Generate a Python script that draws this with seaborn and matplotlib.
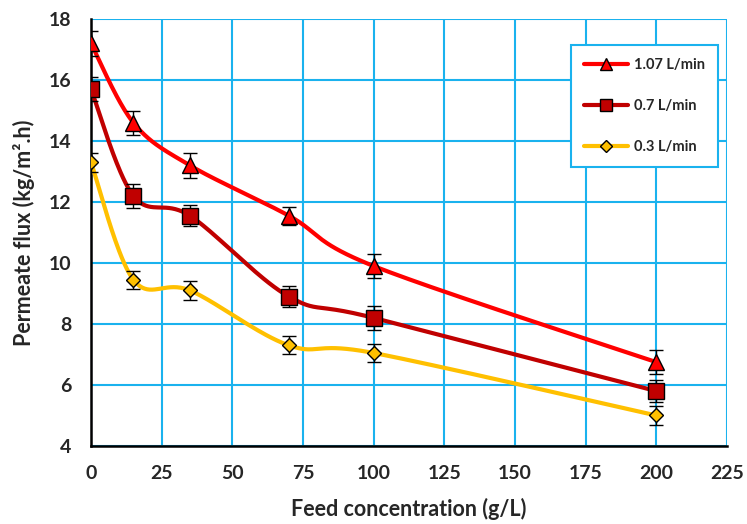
import numpy as np
import pandas as pd
import matplotlib
matplotlib.use("Agg")
import matplotlib.pyplot as plt
import seaborn as sns
from matplotlib.lines import Line2D

conc = [0, 15, 35, 70, 100, 200]
flux_107 = [17.2, 14.6, 13.2, 11.55, 9.9, 6.75]
flux_07 = [15.7, 12.2, 11.55, 8.9, 8.2, 5.8]
flux_03 = [13.3, 9.45, 9.1, 7.3, 7.05, 5.0]
err_107 = [0.4, 0.4, 0.4, 0.3, 0.4, 0.4]
err_07 = [0.4, 0.4, 0.35, 0.35, 0.4, 0.35]
err_03 = [0.3, 0.3, 0.3, 0.3, 0.3, 0.3]
labels = ["1.07 L/min", "0.7 L/min", "0.3 L/min"]
xticks = [0, 25, 50, 75, 100, 125, 150, 175, 200, 225]
yticks = [4, 6, 8, 10, 12, 14, 16, 18]

sns.set_style("white")
plt.rcParams['font.family'] = ['Lato', 'DejaVu Sans']

def smooth(x, y, n=40):
    # Bezier smoothing similar to spreadsheet "smoothed line"
    P = np.column_stack([x, y]).astype(float)
    out = []
    for i in range(len(P) - 1):
        p0 = P[i - 1] if i > 0 else P[i]
        p1 = P[i]
        p2 = P[i + 1]
        p3 = P[i + 2] if i + 2 < len(P) else P[i + 1]
        c1 = p1 + (p2 - p0) / 6.0
        c2 = p2 - (p3 - p1) / 6.0
        t = np.linspace(0, 1, n)[:, None]
        seg = ((1 - t) ** 3) * p1 + 3 * ((1 - t) ** 2) * t * c1 + 3 * (1 - t) * t ** 2 * c2 + t ** 3 * p2
        out.append(seg if i == 0 else seg[1:])
    s = np.vstack(out)
    return s[:, 0], s[:, 1]

fig = plt.figure(figsize=(7.47, 5.24), dpi=100)
ax = fig.add_axes([0.1218, 0.1489, 0.8514, 0.8148])

series = [
    (flux_107, err_107, "#FF0000", "^", 12, labels[0]),
    (flux_07, err_07, "#C00000", "s", 11, labels[1]),
    (flux_03, err_03, "#FFC000", "D", 7.5, labels[2]),
]

grid_c = "#1AB2EE"
handles = []
for y, e, c, m, ms, lab in series:
    sx, sy = smooth(conc, y)
    df = pd.DataFrame({"x": sx, "y": sy})
    sns.lineplot(data=df, x="x", y="y", ax=ax, color=c, lw=3, sort=False, estimator=None, zorder=3)
    ax.errorbar(conc, y, yerr=e, fmt="none", ecolor="black", elinewidth=1, capsize=5, capthick=1, zorder=4)
    ax.plot(conc, y, ls="none", marker=m, ms=ms, mfc=c, mec="black", mew=1, zorder=5)
    handles.append(Line2D([0], [0], color=c, lw=3, marker=m, ms=ms * 0.75, mfc=c, mec="black", mew=1))

ax.set_xlim(0, 225)
ax.set_ylim(4, 18)
ax.set_xticks(xticks)
ax.set_yticks(yticks)
ax.grid(True, color=grid_c, lw=1.5)
ax.set_axisbelow(True)
for s in ["top", "right"]:
    ax.spines[s].set_visible(False)
for s in ["left", "bottom"]:
    ax.spines[s].set_color("black")
    ax.spines[s].set_linewidth(1.8)
    ax.spines[s].set_zorder(2.5)
ax.tick_params(axis="both", labelsize=14, length=0, pad=14)
for t in ax.get_xticklabels() + ax.get_yticklabels():
    t.set_fontweight("bold")
ax.set_xlabel("Feed concentration (g/L)", fontsize=15.5, fontweight="bold", labelpad=11)
ax.set_ylabel("Permeate flux (kg/m\u00b2.h)", fontsize=15.5, fontweight="bold", labelpad=10)

leg = ax.legend(handles, labels, loc="upper right", bbox_to_anchor=(0.986, 0.94),
                borderaxespad=0, frameon=True, fancybox=False, labelspacing=1.85,
                handlelength=3.0, borderpad=0.9, handletextpad=0.4,
                prop={"weight": "bold", "size": 10.5})
leg.get_frame().set_edgecolor(grid_c)
leg.get_frame().set_linewidth(1.5)
leg.get_frame().set_facecolor("white")
leg.get_frame().set_alpha(1)

fig.savefig("out.png", dpi=100)
